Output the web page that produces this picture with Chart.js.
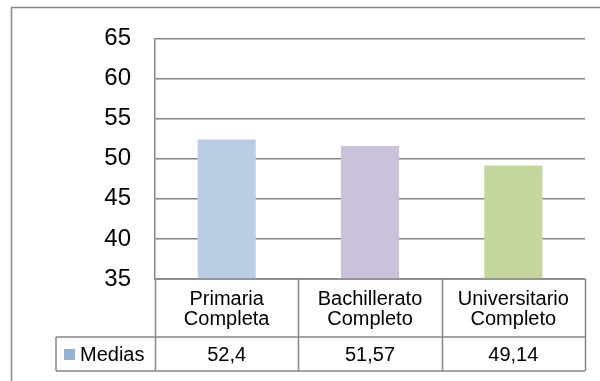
<!DOCTYPE html>
<html>
<head>
<meta charset="utf-8">
<script src="https://cdn.jsdelivr.net/npm/chart.js@4/dist/chart.umd.min.js"></script>
<style>
  body { margin: 0; background: #fff; }
  #wrap { width: 600px; height: 381px; position: relative; }
</style>
</head>
<body>
<div id="wrap"><canvas id="mediasChart"></canvas></div>
<script>
const categories = [["Primaria", "Completa"], ["Bachillerato", "Completo"], ["Universitario", "Completo"]];
const medias = [52.4, 51.57, 49.14];
const seriesName = "Medias";
const barColors = ["#B9CDE5", "#CCC1DA", "#C3D69B"];
const swatchColor = "#95B3D7";
const yMin = 35, yMax = 65, yStep = 5;

const lineColor = "#868686";
const fontFamily = "'Liberation Sans', Arial, sans-serif";

// frame + data table under the plot
const tablePlugin = {
    id: "dataTable",
    afterDraw(chart) {
        const ctx = chart.ctx;
        const area = chart.chartArea;
        const x = chart.scales.x;
        const row1Top = area.bottom;
        const row1Bottom = area.bottom + 58;
        const row2Bottom = row1Bottom + 34;
        const legendLeft = 56;

        ctx.save();
        ctx.strokeStyle = lineColor;
        ctx.lineWidth = 1.5;

        // outer chart frame (only top/left visible)
        ctx.beginPath();
        ctx.moveTo(11.5, 400);
        ctx.lineTo(11.5, 7.5);
        ctx.lineTo(620, 7.5);
        ctx.stroke();

        const edges = [area.left];
        categories.forEach((c, i) => {
            const half = (x.getPixelForValue(1) - x.getPixelForValue(0)) / 2;
            edges.push(x.getPixelForValue(i) + half);
        });

        ctx.beginPath();
        // horizontal lines
        ctx.moveTo(area.left, row1Top); ctx.lineTo(area.right, row1Top);
        ctx.moveTo(legendLeft, row1Bottom); ctx.lineTo(area.right, row1Bottom);
        ctx.moveTo(legendLeft, row2Bottom); ctx.lineTo(area.right, row2Bottom);
        // vertical lines
        edges.forEach(e => {
            ctx.moveTo(Math.round(e) + 0.5, row1Top);
            ctx.lineTo(Math.round(e) + 0.5, row2Bottom);
        });
        ctx.moveTo(legendLeft, row1Bottom); ctx.lineTo(legendLeft, row2Bottom);
        ctx.stroke();

        ctx.fillStyle = "#000";
        ctx.font = "20px " + fontFamily;
        ctx.textAlign = "center";
        ctx.textBaseline = "middle";
        categories.forEach((lines, i) => {
            const cx = x.getPixelForValue(i);
            const midY = (row1Top + row1Bottom) / 2 + 1;
            ctx.fillText(lines[0], cx, midY - 10);
            ctx.fillText(lines[1], cx, midY + 10);
            ctx.fillText(String(medias[i]).replace(".", ","), cx, (row1Bottom + row2Bottom) / 2 + 1);
        });

        // legend key cell
        ctx.fillStyle = swatchColor;
        ctx.fillRect(legendLeft + 8, row1Bottom + 12, 11, 11);
        ctx.fillStyle = "#000";
        ctx.textAlign = "left";
        ctx.fillText(seriesName, legendLeft + 24, (row1Bottom + row2Bottom) / 2 + 1);
        ctx.restore();
    }
};

new Chart(document.getElementById("mediasChart"), {
    type: "bar",
    data: {
        labels: categories.map(c => c.join(" ")),
        datasets: [{
            label: seriesName,
            data: medias,
            backgroundColor: barColors,
            borderWidth: 0,
            barPercentage: 0.405,
            categoryPercentage: 1
        }]
    },
    options: {
        responsive: true,
        maintainAspectRatio: false,
        animation: false,
        layout: { padding: { top: 37, right: 15, bottom: 102, left: 0 } },
        plugins: {
            legend: { display: false },
            tooltip: { enabled: false }
        },
        scales: {
            x: {
                display: false
            },
            y: {
                min: yMin,
                max: yMax,
                ticks: {
                    stepSize: yStep,
                    color: "#000",
                    padding: 24,
                    font: { family: fontFamily, size: 24 }
                },
                grid: { color: lineColor, lineWidth: 1.5, drawTicks: false },
                border: { display: true, color: lineColor, width: 1.5 },
                afterFit(scale) { scale.width = 155; }
            }
        }
    },
    plugins: [tablePlugin]
});
</script>
</body>
</html>
